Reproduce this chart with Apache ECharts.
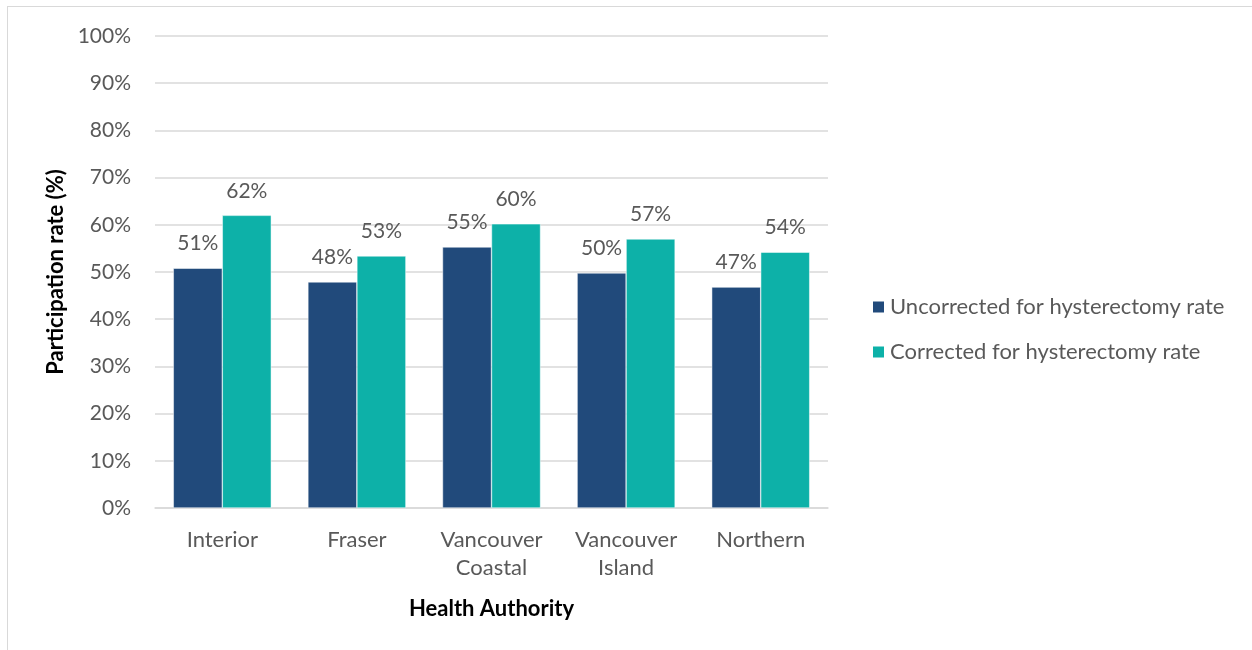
<!DOCTYPE html>
<html>
<head>
<meta charset="utf-8">
<script src="https://cdn.jsdelivr.net/npm/echarts@6/dist/echarts.min.js"></script>
<style>
  html, body { margin: 0; padding: 0; background: #fff; }
  #frame { position: absolute; left: 7px; top: 6px; width: 1260px; height: 660px;
           border-left: 1px solid #d9d9d9; border-top: 1px solid #d9d9d9; }
  #main { position: absolute; left: 0; top: 0; width: 1252px; height: 650px; }
</style>
</head>
<body>
<div id="frame"></div>
<div id="main"></div>
<script>
// data
var regions = ['Interior', 'Fraser', 'Vancouver\nCoastal', 'Vancouver\nIsland', 'Northern'];
var uncorrected = [50.8, 47.9, 55.3, 49.8, 46.8];
var corrected = [62.0, 53.4, 60.2, 57.0, 54.2];
var seriesNames = ['Uncorrected for hysterectomy rate', 'Corrected for hysterectomy rate'];

var font = 'Lato, "Open Sans", sans-serif';
var grey = '#595959';

var chart = echarts.init(document.getElementById('main'));

function barSeries(name, data, color) {
  return {
    name: name,
    type: 'bar',
    data: data,
    barWidth: 49,
    barGap: '0%',
    itemStyle: { color: color, borderColor: '#ffffff', borderWidth: 0.5 },
    label: {
      show: true,
      position: 'top',
      distance: 14,
      color: grey,
      fontFamily: font,
      fontSize: 21,
      formatter: function (p) { return Math.round(p.value) + '%'; }
    }
  };
}

chart.setOption({
  animation: false,
  textStyle: { fontFamily: font },
  grid: { left: 155, right: 424, top: 36, bottom: 142 },
  legend: {
    orient: 'vertical',
    left: 866,
    top: 291,
    itemWidth: 13,
    itemHeight: 13,
    itemGap: 23,
    icon: 'rect',
    textStyle: { color: grey, fontSize: 22, fontFamily: font },
    data: seriesNames
  },
  xAxis: {
    type: 'category',
    data: regions,
    name: 'Health Authority',
    nameLocation: 'middle',
    nameGap: 90,
    nameTextStyle: { fontWeight: 'bold', color: '#000', fontSize: 22, fontFamily: font },
    axisLine: { lineStyle: { color: '#d9d9d9', width: 1.5 } },
    axisTick: { show: false },
    axisLabel: { color: grey, fontSize: 22, margin: 18, lineHeight: 28, fontFamily: font }
  },
  yAxis: {
    type: 'value',
    min: 0,
    max: 100,
    interval: 10,
    name: 'Participation rate (%)',
    nameLocation: 'middle',
    nameGap: 86,
    nameTextStyle: { fontWeight: 'bold', color: '#000', fontSize: 22, fontFamily: font },
    axisLine: { show: false },
    axisTick: { show: false },
    axisLabel: { color: grey, fontSize: 21, margin: 24, formatter: '{value}%', fontFamily: font },
    splitLine: { lineStyle: { color: '#d9d9d9', width: 1.5 } }
  },
  series: [
    barSeries(seriesNames[0], uncorrected, '#214a7b'),
    barSeries(seriesNames[1], corrected, '#0db1a8')
  ]
});
</script>
</body>
</html>
